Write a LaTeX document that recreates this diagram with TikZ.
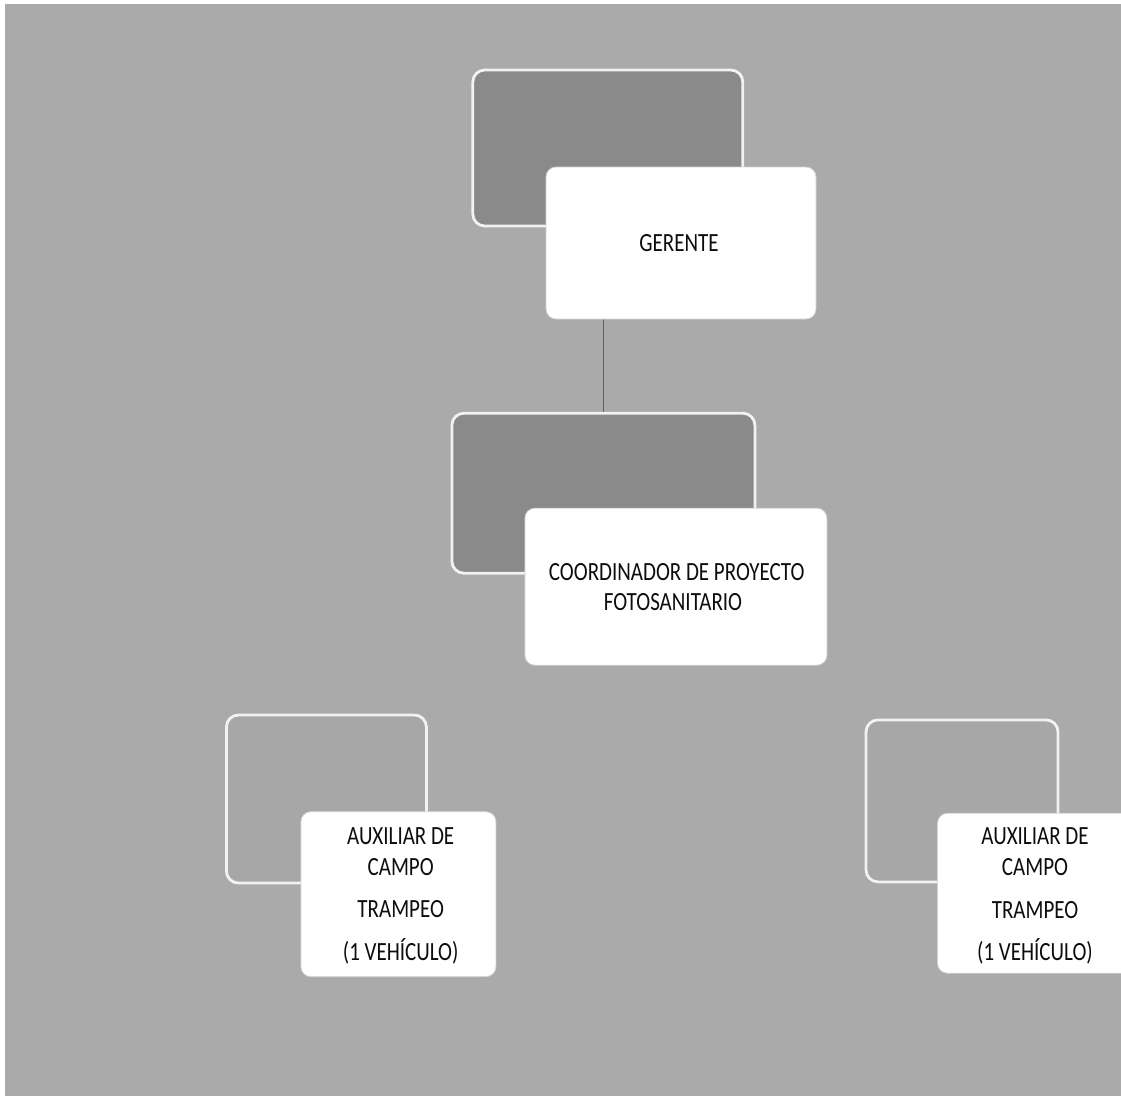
\documentclass[tikz,border=0pt]{standalone}
\usepackage{fontspec}
\setmainfont{Carlito}
\usepackage{graphicx}
\definecolor{bg}{gray}{0.665}
\definecolor{darkbox}{gray}{0.54}
\definecolor{lightbox}{gray}{0.655}
\definecolor{rim}{gray}{0.95}
\definecolor{ink}{gray}{0.05}
\newcommand{\tallt}[1]{\scalebox{1}[1.25]{#1}}
\tikzset{
  backbox/.style={rectangle, rounded corners=12pt, draw=rim, line width=2.8pt, fill=darkbox, inner sep=0pt},
  backlight/.style={backbox, fill=lightbox},
  frontbox/.style={rectangle, rounded corners=10pt, draw=gray!35, line width=0.8pt, fill=white, inner sep=0pt},
  lbl/.style={inner sep=0pt, text=ink, font=\fontsize{21}{25}\selectfont},
  conn/.style={draw=gray!75!black, line width=1pt}
}
\begin{document}
\begin{tikzpicture}[x=1pt,y=-1pt]
\useasboundingbox (0,0) rectangle (1121,1095);
\fill[white] (-10,-10) rectangle (1135,1110);
\fill[bg] (5,4) rectangle (1135,1110);

% back boxes
\node[backbox, minimum width=270pt, minimum height=156pt] (gback) at (607.8,148) {};
\node[backbox, minimum width=303pt, minimum height=160pt] (cback) at (603.4,493.2) {};
\node[backlight, minimum width=200pt, minimum height=168pt] (a1back) at (326.4,799) {};
\node[backlight, minimum width=192pt, minimum height=162pt] (a2back) at (962,800.9) {};

\draw[conn] (cback.north |- 0,319) -- (cback.north);

% front boxes
\node[frontbox, minimum width=270pt, minimum height=152pt] (gfront) at (681,243) {};
\node[frontbox, minimum width=302pt, minimum height=157pt] (cfront) at (675.9,586.7) {};
\node[frontbox, minimum width=195pt, minimum height=165pt] (a1front) at (398.4,894.2) {};
\node[frontbox, minimum width=195pt, minimum height=160pt] (a2front) at (1035,893.2) {};

\node[lbl] (gt) at (679,243) {\tallt{GERENTE}};
\node[lbl] (ct1) at (676.7,571.7) {\tallt{COORDINADOR DE PROYECTO}};
\node[lbl] (ct2) at (673,601.7) {\tallt{FOTOSANITARIO}};

\node[lbl] (a1t1) at (400.7,836) {\tallt{AUXILIAR DE}};
\node[lbl] (a1t2) at (400.7,867) {\tallt{CAMPO}};
\node[lbl] (a1t3) at (400.7,909.3) {\tallt{TRAMPEO}};
\node[lbl] (a1t4) at (400.7,951) {\tallt{(1 VEHÍCULO)}};

\node[lbl] (a2t1) at (1035,836.5) {\tallt{AUXILIAR DE}};
\node[lbl] (a2t2) at (1035,867.5) {\tallt{CAMPO}};
\node[lbl] (a2t3) at (1035,910) {\tallt{TRAMPEO}};
\node[lbl] (a2t4) at (1035,951) {\tallt{(1 VEHÍCULO)}};
\end{tikzpicture}
\end{document}
